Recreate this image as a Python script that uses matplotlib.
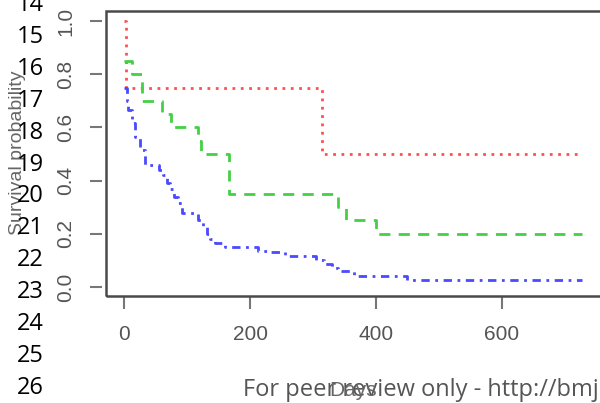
import numpy as np
import matplotlib
matplotlib.use('Agg')
import matplotlib.pyplot as plt
from matplotlib.patches import Rectangle

# Kaplan-Meier steps (day the step starts, survival after it)
redDays = [0, 3, 314, 727]
redSurv = [1.0, 0.75, 0.5, 0.5]

greenDays = [0, 13, 28, 60, 75, 117, 122, 167, 340, 352, 400, 727]
greenSurv = [0.85, 0.80, 0.70, 0.65, 0.60, 0.55, 0.50, 0.35, 0.30, 0.25, 0.20, 0.20]

blueDays = [0, 4, 7, 12, 17, 25, 33, 55, 62, 68, 73, 80, 86, 92, 117, 126, 132, 137, 145,
            160, 212, 230, 255, 305, 318, 330, 340, 365, 450, 727]
blueSurv = [0.75, 0.70, 0.665, 0.615, 0.565, 0.515, 0.46, 0.44, 0.42, 0.39, 0.37, 0.34, 0.315,
            0.28, 0.25, 0.23, 0.20, 0.18, 0.165, 0.15, 0.135, 0.13, 0.115, 0.10, 0.085, 0.07,
            0.06, 0.04, 0.025, 0.025]

xTicks = [0, 200, 400, 600]
yTicks = [0.0, 0.2, 0.4, 0.6, 0.8, 1.0]
lineNums = list(range(14, 27))

W, H = 600, 403
fig = plt.figure(figsize=(6, 4.03), dpi=100)
ax = fig.add_axes([106/W, 1-296/H, 510/W, 285/H])

ax.step(redDays, redSurv, where='post', color='#ff5050', lw=2, ls=(0, (1, 2)))
ax.step(greenDays, greenSurv, where='post', color='#44d044', lw=2, ls=(0, (4, 3)))
ax.step(blueDays, blueSurv, where='post', color='#4a4aff', lw=2, ls=(0, (3, 2, 1, 2)))

ax.set_xlim(-28.6, 781)
ax.set_ylim(-0.034, 1.038)

# R style box, ticks on an offset axis
for s in ax.spines.values():
    s.set_color('none')
ax.spines['left'].set_position(('outward', 3))
ax.add_patch(Rectangle((0, 0), 1, 1, transform=ax.transAxes, fill=False,
                       ec='#4a4a4a', lw=1.8, clip_on=False, zorder=5))

ax.set_xticks(xTicks)
ax.set_xticklabels([str(t) for t in xTicks])
ax.set_yticks(yTicks)
ax.set_yticklabels(['%.1f' % t for t in yTicks], rotation=90, va='center')
ax.tick_params(axis='both', direction='out', length=9, width=1.5, color='#777777',
               labelcolor='#555555', labelsize=15)
ax.tick_params(axis='x', pad=12)
ax.tick_params(axis='y', pad=10)
for lab in ax.get_xticklabels() + ax.get_yticklabels():
    lab.set_family('Liberation Sans')

fig.text(18/W, 1-153/H, 'Survival probability', rotation=90, ha='center', va='center',
         fontsize=14, color='#666666', family='Liberation Sans')
fig.text(243/W, 1-390/H, 'For peer review only - http://bmjopen.bmj.com',
         ha='left', va='center', fontsize=17, color='#555555', family='Open Sans')
fig.text(353/W, 1-390/H, 'Days', ha='center', va='center', fontsize=15,
         color='#666666', family='Liberation Sans')

for n in lineNums:
    fig.text(44/W, 1-(37 + (n-15)*31.9)/H, str(n), ha='right', va='center',
             fontsize=17, color='black', family='Open Sans', zorder=10)

fig.savefig('out.png', dpi=100)
